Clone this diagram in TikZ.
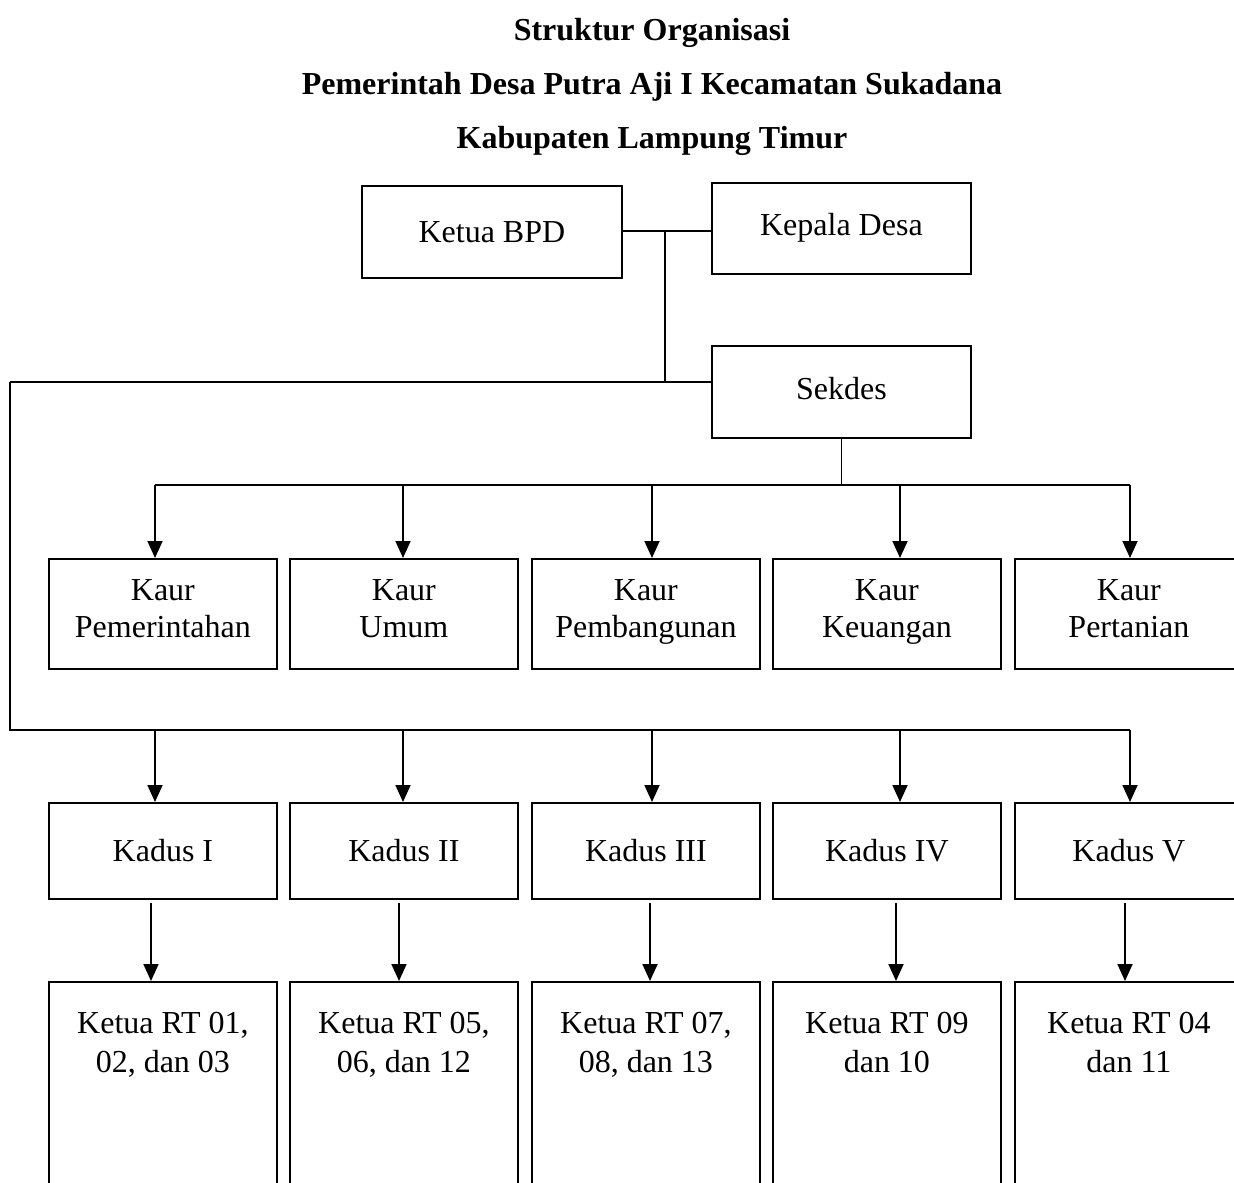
\documentclass[tikz,border=0pt]{standalone}
\usepackage{fontspec}
\setmainfont{Liberation Serif}
\usetikzlibrary{arrows.meta}
\tikzset{
  box/.style={draw, line width=1.8pt, inner sep=0pt, align=center, anchor=north west,
    font=\fontsize{32}{37}\selectfont},
  kaurbox/.style={box, minimum width=228pt, minimum height=110pt},
  kadusbox/.style={box, minimum width=228pt, minimum height=96pt},
  rtbox/.style={box, minimum width=228pt, minimum height=230pt},
  topbox/.style={box, minimum width=260pt, minimum height=92pt},
  rttext/.style={align=center, inner sep=0pt, font=\fontsize{32}{39}\selectfont},
  titletext/.style={inner sep=0pt, font=\bfseries\fontsize{32}{38}\selectfont},
  conn/.style={line width=1.8pt},
  arr/.style={line width=1.8pt, -{Triangle[length=17pt,width=15pt]}}
}
\begin{document}
\begin{tikzpicture}[x=1pt,y=-1pt]
\useasboundingbox (0,0) rectangle (1234,1183);
\fill[white] (0,0) rectangle (1234,1183);

% titles
\node[titletext] (t1) at (652,33) {Struktur Organisasi};
\node[titletext] (t2) at (652,87) {Pemerintah Desa Putra Aji I Kecamatan Sukadana};
\node[titletext] (t3) at (652,141) {Kabupaten Lampung Timur};

% top boxes
\node[topbox, minimum width=260pt, minimum height=92pt] (bpd) at (361,185) {Ketua BPD};
\node[topbox, minimum width=259pt, minimum height=91pt] (kd) at (711,182) {Kepala Desa\strut};
\node[topbox, minimum width=259pt, minimum height=92pt] (sek) at (711,345) {Sekdes\strut};

% Kaur boxes
\node[kaurbox] (k1) at (48,558) {Kaur\\Pemerintahan\strut};
\node[kaurbox] (k2) at (289,558) {Kaur\\Umum\strut};
\node[kaurbox] (k3) at (531,558) {Kaur\\Pembangunan\strut};
\node[kaurbox] (k4) at (772,558) {Kaur\\Keuangan\strut};
\node[kaurbox] (k5) at (1014,558) {Kaur\\Pertanian\strut};

% Kadus boxes
\node[kadusbox] (d1) at (48,802) {Kadus I};
\node[kadusbox] (d2) at (289,802) {Kadus II};
\node[kadusbox] (d3) at (531,802) {Kadus III};
\node[kadusbox] (d4) at (772,802) {Kadus IV};
\node[kadusbox] (d5) at (1014,802) {Kadus V};

% RT boxes
\node[rtbox] (r1) at (48,981) {};
\node[rtbox] (r2) at (289,981) {};
\node[rtbox] (r3) at (531,981) {};
\node[rtbox] (r4) at (772,981) {};
\node[rtbox] (r5) at (1014,981) {};
\node[rttext, anchor=north] (rt1) at ([yshift=-31pt]r1.north) {Ketua RT 01,\\02, dan 03};
\node[rttext, anchor=north] (rt2) at ([yshift=-31pt]r2.north) {Ketua RT 05,\\06, dan 12};
\node[rttext, anchor=north] (rt3) at ([yshift=-31pt]r3.north) {Ketua RT 07,\\08, dan 13};
\node[rttext, anchor=north] (rt4) at ([yshift=-31pt]r4.north) {Ketua RT 09\\dan 10};
\node[rttext, anchor=north] (rt5) at ([yshift=-31pt]r5.north) {Ketua RT 04\\dan 11};

% top connectors
\coordinate (j) at (665,231);
\coordinate (L1) at (10,382);
\coordinate (L2) at (10,730);
\draw[conn] (bpd.east |- j) -- (j -| kd.west);
\draw[conn] (j) -- (j |- L1);
\draw[conn] (L1) -- (L1 -| sek.west);
\draw[conn] (L1) -- (L2) -- (1130,730);

% Sekdes to Kaur
\coordinate (s1) at (sek.south);
\draw[conn] (sek.south) -- (s1 |- 0,485);
\draw[conn] (155,485) -- (1130,485);
\coordinate (a1) at (155,485);
\coordinate (a2) at (403,485);
\coordinate (a3) at (652,485);
\coordinate (a4) at (900,485);
\coordinate (a5) at (1130,485);
\draw[arr] (a1) -- (a1 |- k1.north);
\draw[arr] (a2) -- (a2 |- k2.north);
\draw[arr] (a3) -- (a3 |- k3.north);
\draw[arr] (a4) -- (a4 |- k4.north);
\draw[arr] (a5) -- (a5 |- k5.north);

% line to Kadus
\coordinate (b1) at (155,730);
\coordinate (b2) at (403,730);
\coordinate (b3) at (652,730);
\coordinate (b4) at (900,730);
\coordinate (b5) at (1130,730);
\draw[arr] (b1) -- (b1 |- d1.north);
\draw[arr] (b2) -- (b2 |- d2.north);
\draw[arr] (b3) -- (b3 |- d3.north);
\draw[arr] (b4) -- (b4 |- d4.north);
\draw[arr] (b5) -- (b5 |- d5.north);

% Kadus to RT
\coordinate (c1) at (151,903);
\coordinate (c2) at (399,903);
\coordinate (c3) at (650,903);
\coordinate (c4) at (896,903);
\coordinate (c5) at (1125,903);
\draw[arr] (c1) -- (c1 |- r1.north);
\draw[arr] (c2) -- (c2 |- r2.north);
\draw[arr] (c3) -- (c3 |- r3.north);
\draw[arr] (c4) -- (c4 |- r4.north);
\draw[arr] (c5) -- (c5 |- r5.north);
\end{tikzpicture}
\end{document}
